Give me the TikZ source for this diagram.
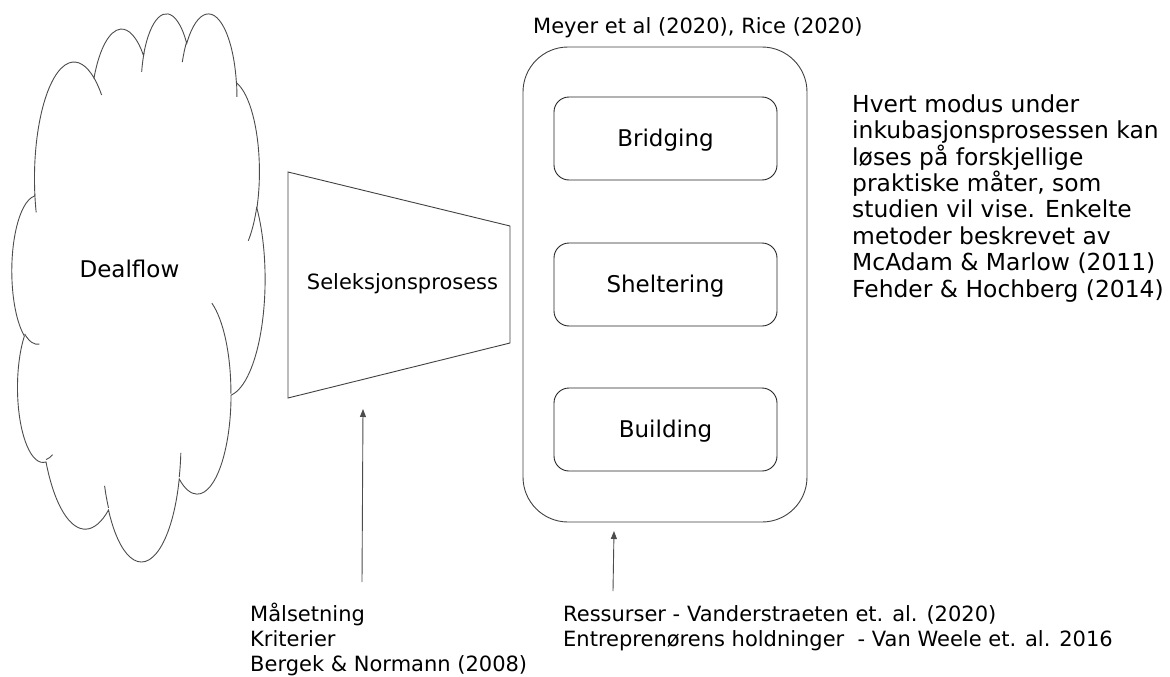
\documentclass[tikz,border=0pt]{standalone}
\usepackage{fontspec}
\setmainfont{DejaVu Sans}
\usetikzlibrary{arrows.meta}
\tikzset{
  ooarc/.style n args={4}{
    x radius=#1, y radius=#2,
    start angle={atan2(#1*sin(#3),#2*cos(#3))},
    delta angle={mod(atan2(#1*sin(#3+#4),#2*cos(#3+#4))-atan2(#1*sin(#3),#2*cos(#3))+720,360)}},
  cloudline/.style={draw=black!70, line width=0.9pt},
  shapeline/.style={draw=black!75, line width=0.9pt},
  bigbox/.style={shapeline, rounded corners=45pt, minimum width=284pt, minimum height=475pt, inner sep=0pt},
  inbox/.style={draw=black!85, line width=0.9pt, rounded corners=15pt, minimum width=223pt, minimum height=83pt, inner sep=0pt,
    font=\fontsize{23}{27}\selectfont, text height=16.8pt, text depth=0pt},
  lbl/.style={inner sep=0pt, text height=16.8pt, text depth=0pt},
  note/.style={inner sep=0pt, align=left, anchor=north west, font=\fontsize{21}{25}\selectfont},
  arr/.style={draw=black!70, line width=0.9pt, -{Triangle[length=8pt,width=6pt]}}
}
\begin{document}
\begin{tikzpicture}[x=1pt,y=-1pt]
\useasboundingbox (0,0) rectangle (1170,677);
% cloud (Office cloud shape)
\begin{scope}[shift={(12,12)}, x={(0.585648pt,0pt)}, y={(0pt,-1.268519pt)}]
\draw[cloudline, fill=white] (39.00,143.70)
 arc[ooarc={67.53}{91.90}{-190.4875}{123.7805}]
 arc[ooarc={53.33}{72.67}{-144.1024}{89.9452}]
 arc[ooarc={43.65}{59.45}{-145.8079}{99.7230}]
 arc[ooarc={48.57}{65.95}{-130.9861}{117.2417}]
 arc[ooarc={53.33}{72.73}{-78.7089}{109.0269}]
 arc[ooarc={67.75}{92.20}{-46.2673}{130.2690}]
 arc[ooarc={57.85}{78.67}{0.6250}{114.0333}]
 arc[ooarc={67.52}{92.15}{22.4516}{115.1726}]
 arc[ooarc={77.20}{105.43}{66.2426}{75.7110}]
 arc[ooarc={43.60}{59.18}{-274.9421}{146.7356}]
 arc[ooarc={43.45}{59.45}{-246.8285}{152.5189}]
 -- cycle;
\draw[cloudline]
 (46.93,261.77) arc[ooarc={43.45}{59.45}{86.7420}{26.4295}]
 (69.28,348.99) arc[ooarc={43.60}{59.18}{73.6105}{11.4475}]
 (164.78,390.90) arc[ooarc={67.52}{92.15}{137.6242}{14.0811}]
 (288.27,347.51) arc[ooarc={67.52}{92.15}{6.4533}{15.9984}]
 (341.29,229.54) arc[ooarc={57.85}{78.67}{-70.2924}{70.9174}]
 (417.98,153.54) arc[ooarc={53.33}{72.73}{30.3180}{27.7515}]
 (383.24,54.26) arc[ooarc={48.57}{65.95}{-13.7443}{14.8604}]
 (290.78,39.52) arc[ooarc={48.57}{65.95}{-149.1815}{18.1970}]
 (221.41,47.20) arc[ooarc={43.65}{59.45}{-163.4943}{19.0010}]
 (140.00,51.92) arc[ooarc={67.53}{91.90}{-66.7070}{12.3194}]
 (41.27,157.89) arc[ooarc={67.53}{91.90}{157.6544}{11.8582}];
\end{scope}
\node[lbl, font=\fontsize{23}{27}\selectfont] (dealflow) at (129.5,269.5) {Dealflow};
% selection funnel
\draw[shapeline] (288,172) -- (510,226) -- (510,343) -- (288,398) -- cycle;
\node[lbl, font=\fontsize{21}{25}\selectfont, text height=15.3pt] (sel) at (402.5,281.5) {Seleksjonsprosess};
% incubation box
\node[bigbox] (incub) at (665,284.5) {};
\node[inbox] (bridging) at (665.5,138.5) {Bridging};
\node[inbox] (sheltering) at (665.5,284.5) {Sheltering};
\node[inbox] (building) at (665.5,429.5) {Building};
% texts
\node[inner sep=0pt, anchor=base west, font=\fontsize{21}{25}\selectfont] (meyer) at (533,34) {Meyer et al (2020), Rice (2020)};
\node[note, font=\fontsize{23.4}{26.4}\selectfont] (hvert) at (852,90) {\rule{0pt}{22pt}Hvert modus under\\inkubasjonsprosessen kan\\løses på forskjellige\\praktiske måter, som\\studien vil vise. Enkelte\\metoder beskrevet av\\McAdam \& Marlow (2011)\\Fehder \& Hochberg (2014)};
\node[note] (maal) at (250,601) {\rule{0pt}{20pt}Målsetning\\Kriterier\\Bergek \& Normann (2008)};
\node[note] (ress) at (563,601) {\rule{0pt}{20pt}Ressurser - Vanderstraeten et. al. (2020)\\Entreprenørens holdninger\ \ - Van Weele et. al. 2016};
% arrows
\coordinate (a1s) at (362,582);
\coordinate (a1e) at (363,409);
\coordinate (a2s) at (613,591);
\coordinate (a2e) at (614,531);
\draw[arr] (a1s) -- (a1e);
\draw[arr] (a2s) -- (a2e);
\end{tikzpicture}
\end{document}
